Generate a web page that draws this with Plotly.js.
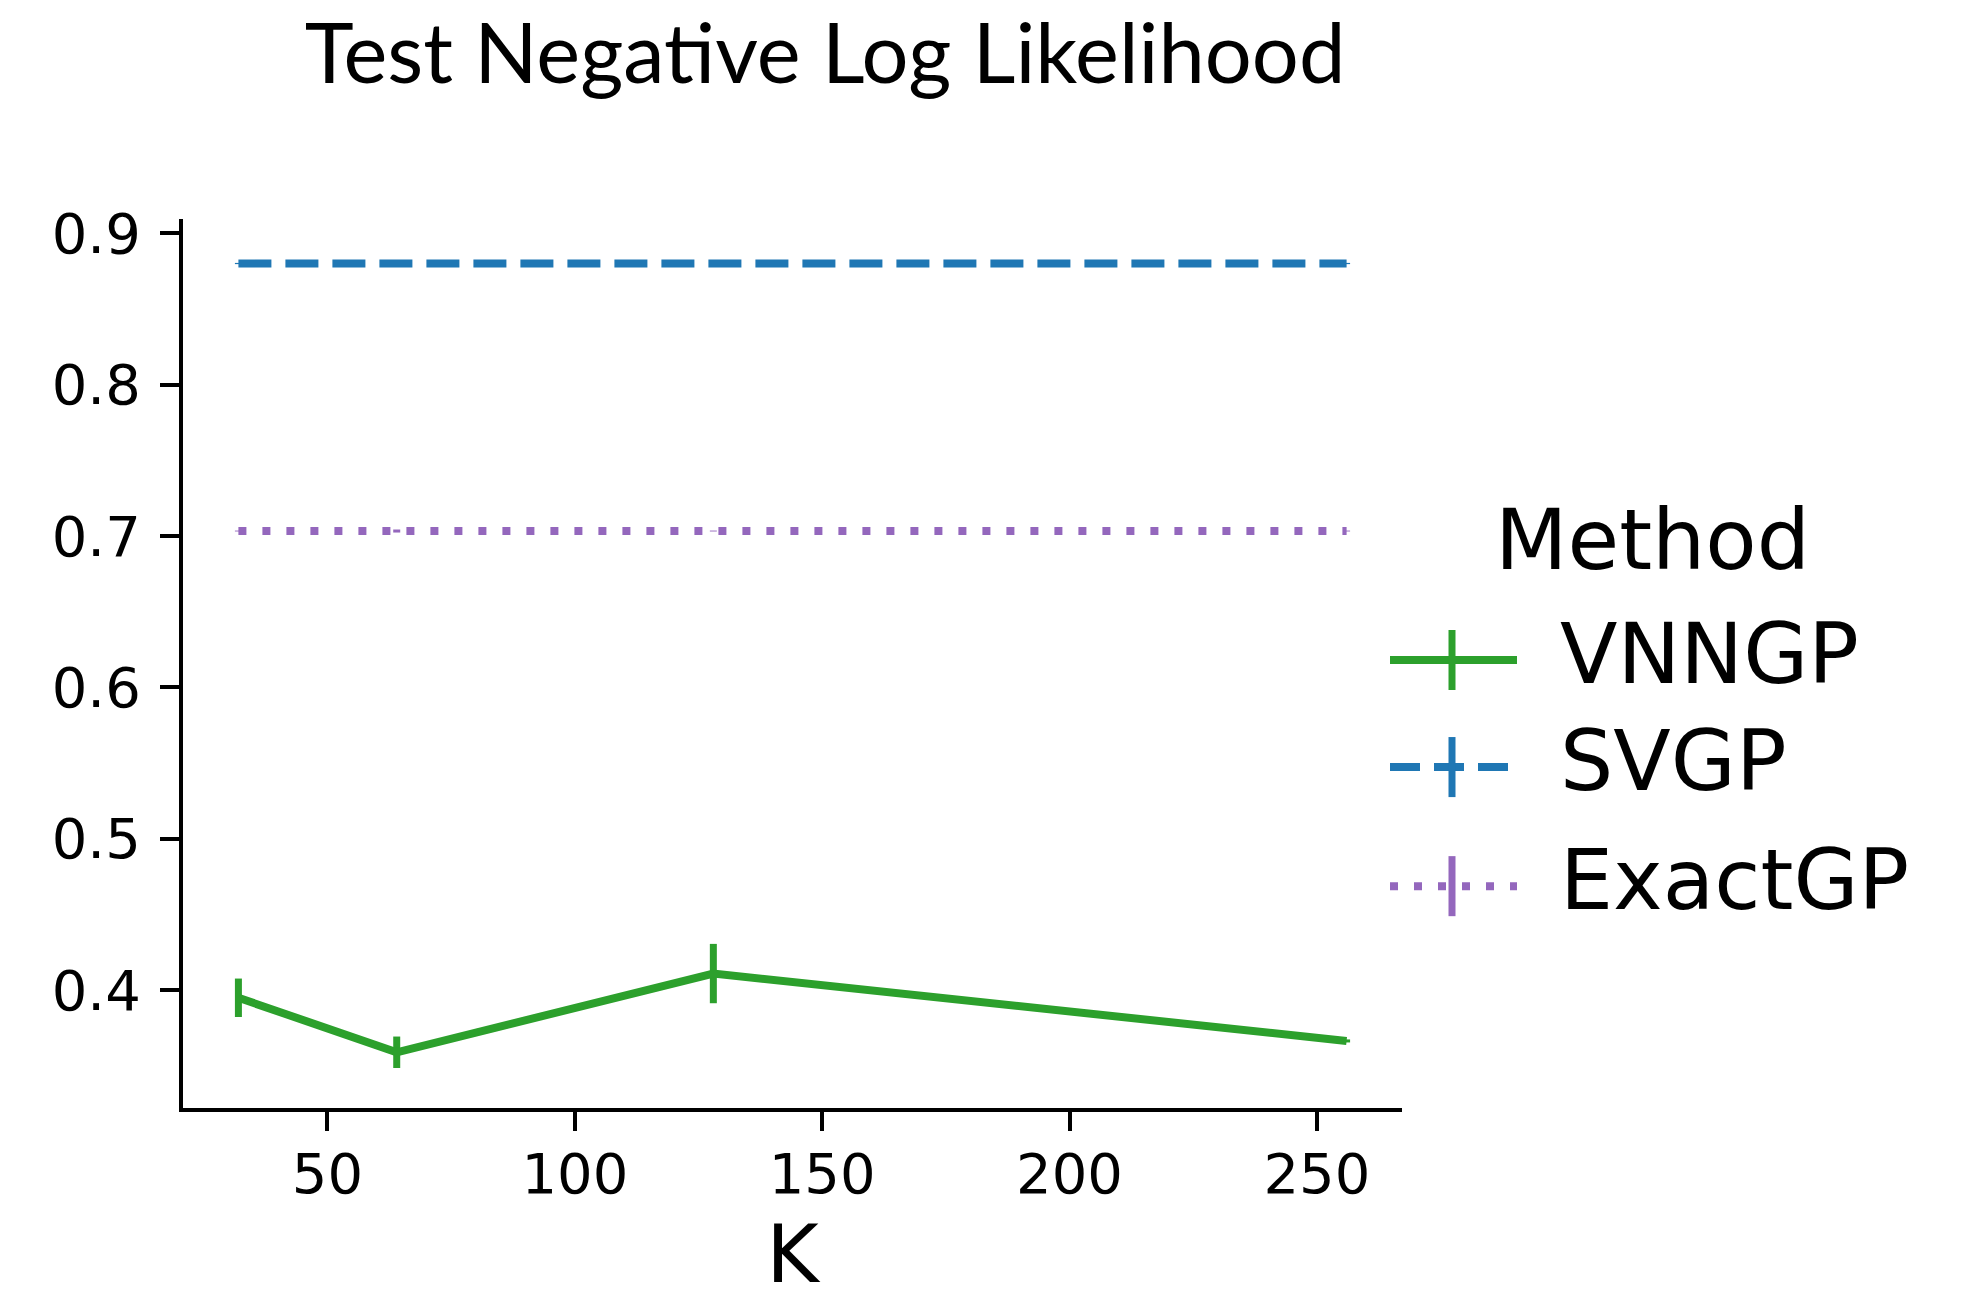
<!DOCTYPE html>
<html><head><meta charset="utf-8">
<script src="https://cdn.plot.ly/plotly-3.0.1.min.js"></script>
<style>html,body{margin:0;padding:0;background:#fff}</style>
</head><body>
<div id="chart" style="width:1963px;height:1301px"></div>
<script>
// ---- data ----
const kValues = [32, 64, 128, 256];
const methods = ['VNNGP', 'SVGP', 'ExactGP'];
const vnngpNLL = [0.395, 0.359, 0.411, 0.3665];
const vnngpErr = [0.0127, 0.0104, 0.0196, 0.001];
const svgpNLL = [0.880, 0.880, 0.880, 0.880];
const svgpErr = [0.0004, 0.0004, 0.0004, 0.0004];
const exactNLL = [0.7033, 0.7033, 0.7033, 0.7033];
const exactErr = [0.0003, 0.001, 0.0003, 0.0003];
const xTicks = [50, 100, 150, 200, 250];
const yTicks = [0.4, 0.5, 0.6, 0.7, 0.8, 0.9];

// ---- styles ----
const colors = ['#2ca02c', '#1f77b4', '#9467bd'];
const dashes = ['solid', '33px,14px', '8px,16px'];
const LW = 8;

const series = [vnngpNLL, svgpNLL, exactNLL];
const errs = [vnngpErr, svgpErr, exactErr];

const traces = methods.map((m, i) => ({
  type: 'scatter', mode: 'lines', name: m,
  x: kValues, y: series[i],
  line: {color: colors[i], width: LW, dash: dashes[i]},
  error_y: {type: 'data', array: errs[i], visible: true, color: colors[i], thickness: 7, width: 0},
  showlegend: false
}));

// plot area in pixels
const L = 183, R = 1402, T = 219.3, B = 1107.7, W = 1963, H = 1301;
const px = p => (p - L) / (R - L);
const py = p => (B - p) / (B - T);

const shapes = [];
const annotations = [];
const rowY = [660, 767, 886];
methods.forEach((m, i) => {
  shapes.push({type: 'line', xref: 'paper', yref: 'paper',
    x0: px(1390), x1: px(1517), y0: py(rowY[i]), y1: py(rowY[i]),
    line: {color: colors[i], width: LW, dash: i === 0 ? 'solid' : (i === 1 ? '30px,14px' : '8px,16px')}});
  shapes.push({type: 'line', xref: 'paper', yref: 'paper',
    x0: px(1452), x1: px(1452), y0: py(rowY[i] - 30), y1: py(rowY[i] + 30),
    line: {color: colors[i], width: 7}});
  annotations.push({xref: 'paper', yref: 'paper', x: px(1558), y: py(rowY[i] - 6),
    xanchor: 'left', yanchor: 'middle', showarrow: false, text: m,
    font: {family: 'DejaVu Sans', size: 84, color: '#000'}});
});
annotations.push({xref: 'paper', yref: 'paper', x: px(1653), y: py(540),
  xanchor: 'center', yanchor: 'middle', showarrow: false, text: 'Method',
  font: {family: 'DejaVu Sans', size: 84, color: '#000'}});

const layout = {
  width: W, height: H,
  margin: {l: L, r: W - R, t: T, b: H - B, pad: 0},
  paper_bgcolor: '#fff', plot_bgcolor: '#fff',
  title: {text: 'Test Negative Log Likelihood', xref: 'container', yref: 'container',
    x: 825 / W, xanchor: 'center', y: 1 - 54 / H, yanchor: 'middle',
    font: {family: 'Lato', size: 83, color: '#000'}},
  xaxis: {range: [20.8, 267.2], tickvals: xTicks, ticks: 'outside', ticklen: 19, tickwidth: 4,
    tickcolor: '#000', showline: true, linewidth: 4, linecolor: '#000', showgrid: false, zeroline: false,
    tickfont: {family: 'DejaVu Sans', size: 56, color: '#000'}, ticklabelstandoff: -5,
    title: {text: 'K', font: {family: 'DejaVu Sans', size: 80, color: '#000'}, standoff: 34}},
  yaxis: {range: [0.3222, 0.9094], tickvals: yTicks, tickformat: '.1f', ticks: 'outside', ticklen: 19, tickwidth: 4,
    tickcolor: '#000', showline: true, linewidth: 4, linecolor: '#000', showgrid: false, zeroline: false,
    tickfont: {family: 'DejaVu Sans', size: 56, color: '#000'}, ticklabelstandoff: 8},
  shapes: shapes, annotations: annotations, showlegend: false
};

Plotly.newPlot('chart', traces, layout, {displayModeBar: false, staticPlot: true});
</script>
</body></html>
